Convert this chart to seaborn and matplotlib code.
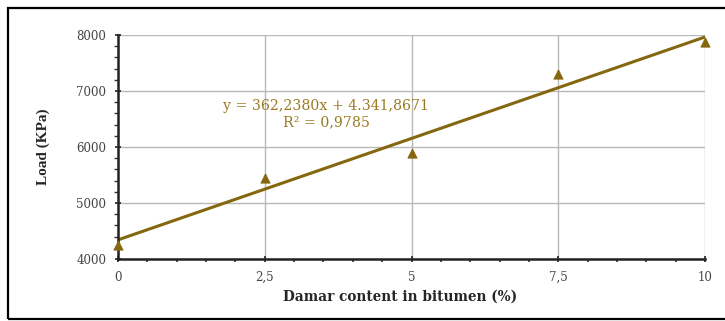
import numpy as np
import pandas as pd
import matplotlib
matplotlib.use("Agg")
import matplotlib.pyplot as plt
import seaborn as sns
from matplotlib.ticker import MultipleLocator, FuncFormatter
from matplotlib.patches import Rectangle

# Measured data
damar_pct = [0, 2.5, 5, 7.5, 10]
load_kpa = [4250, 5450, 5900, 7300, 7870]

# Linear trendline as reported
slope = 362.2380
intercept = 4341.8671
r_squared = 0.9785

x_ticks = [0, 2.5, 5, 7.5, 10]
y_ticks = [4000, 5000, 6000, 7000, 8000]

df = pd.DataFrame({"damar": damar_pct, "load": load_kpa})

sns.set_theme(style="white")
plt.rcParams["font.family"] = ["Liberation Serif", "DejaVu Serif"]

olive = "#85670f"
serif_wide = ["DejaVu Serif"]

fig = plt.figure(figsize=(7.25, 3.21), dpi=100)
ax = fig.add_axes([118 / 725, 1 - 259 / 321, 587 / 725, 224 / 321])

# Outer frame around the whole chart
fig.patches.append(Rectangle((8 / 725, 2 / 321), 730 / 725, 311 / 321,
                             transform=fig.transFigure, fill=False,
                             edgecolor="black", linewidth=1.6))

ax.set_xlim(0, 10)
ax.set_ylim(4000, 8000)
ax.set_xticks(x_ticks)
ax.set_yticks(y_ticks)
ax.xaxis.set_minor_locator(MultipleLocator(0.5))
ax.yaxis.set_minor_locator(MultipleLocator(200))
ax.grid(True, which="major", color="#b8b8b8", linewidth=1.0)
ax.set_axisbelow(True)

# Trendline
xs = np.array([0, 10])
sns.lineplot(x=xs, y=slope * xs + intercept, ax=ax, color=olive, linewidth=2.2)

# Data points
sns.scatterplot(data=df, x="damar", y="load", ax=ax, marker="^", s=45,
                color=olive, edgecolor=olive, zorder=5, clip_on=False)

eq_text = f"y = {slope:.4f}x + 4.341,{str(intercept).split('.')[1]}".replace(".", ",", 1)
ax.text(3.55, 6740, eq_text, color="#9a7a22", family=serif_wide,
        fontsize=10.2, ha="center", va="center")
ax.text(3.55, 6450, f"R² = {r_squared:.4f}".replace(".", ","), color="#9a7a22",
        family=serif_wide, fontsize=10.2, ha="center", va="center")

for side in ["top", "right"]:
    ax.spines[side].set_visible(False)
for side in ["left", "bottom"]:
    ax.spines[side].set_color("#222222")
    ax.spines[side].set_linewidth(1.8)

ax.tick_params(axis="both", which="both", bottom=True, left=True)
ax.tick_params(axis="both", which="major", direction="inout", length=5,
               width=1.2, color="#222222", labelsize=8.5, labelcolor="#444444")
ax.tick_params(axis="y", which="minor", direction="out", length=3,
               width=1.0, color="#333333")
ax.tick_params(axis="x", which="minor", direction="out", length=2.5,
               width=1.2, color="#333333")
ax.tick_params(axis="x", pad=6)
ax.tick_params(axis="y", pad=6)
for lbl in ax.get_xticklabels() + ax.get_yticklabels():
    lbl.set_family(serif_wide)
ax.xaxis.set_major_formatter(FuncFormatter(lambda v, p: f"{v:g}".replace(".", ",")))
ax.yaxis.set_major_formatter(FuncFormatter(lambda v, p: f"{int(v)}"))

ax.set_xlabel("Damar content in bitumen (%)", fontsize=9.8, fontweight="bold",
              family=serif_wide)
ax.xaxis.set_label_coords((400 - 118) / 587, -0.135)
ax.set_ylabel("Load (KPa)", fontsize=11, fontweight="bold")
ax.yaxis.set_label_coords(-0.116, 0.5)

fig.savefig("out.png", dpi=100, facecolor="white")
